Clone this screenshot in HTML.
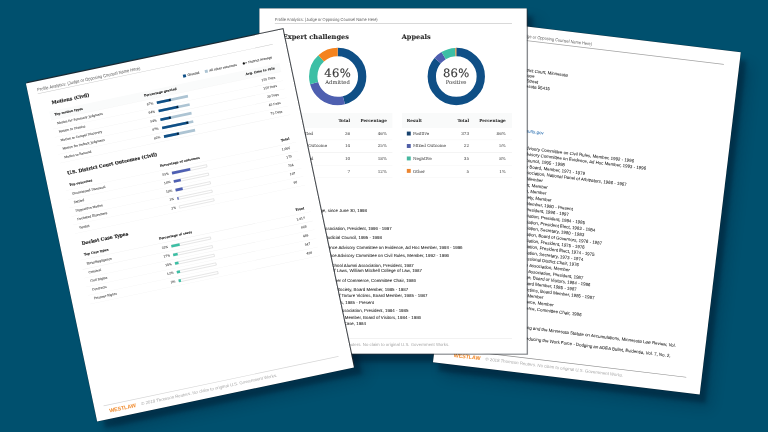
<!DOCTYPE html>
<html lang="en">
<head>
<meta charset="utf-8">
<title>Profile Analytics</title>
<style>
*{box-sizing:border-box;margin:0;padding:0}
html,body{width:768px;height:432px;overflow:hidden;background:#00506e}
body{position:relative;font-family:"Liberation Sans", sans-serif;color:#222;text-rendering:geometricPrecision}
.pg,.sh{position:absolute;left:0;top:0;transform-origin:0 0}
.pg{background:#fff;overflow:hidden;box-shadow:0 0 0 1.2px rgba(10,25,35,.3),4px 3.4px 0 0 rgba(40,45,50,.52)}
#left{box-shadow:0 0 0 1.2px rgba(10,25,35,.3),3.3px -3.3px 0 0 rgba(35,38,42,.8)}
#right{box-shadow:0 0 0 1.5px rgba(10,25,35,.3)}
#right .rule{background:#a2a2a2;height:2px}
#right .rule.f{background:#8c8c8c;height:2.4px}
.sh{background:#023;box-shadow:20px 24px 12px 0 rgba(0,20,40,.36),34px 38px 40px 0 rgba(0,20,40,.24)}
.a{position:absolute;white-space:nowrap}
.hd{font:13.6px/14px "Liberation Sans", sans-serif;color:#5e5e5e;transform:scaleX(.886);transform-origin:0 50%}
#left .hd{font-size:13.9px}
.rule{position:absolute;height:1.5px;background:#c6c6c6}
.wl{font:bold 16.4px/18px "Liberation Sans", sans-serif;color:#f08a2c;letter-spacing:-.2px}
.cp{font:13.3px/16px "Liberation Sans", sans-serif;color:#a8a8a8}
.t{font:13.4px/18.6px "Liberation Sans", sans-serif;color:#181818;-webkit-text-stroke:.12px #181818}
.lnk{color:#2a6fb0;-webkit-text-stroke-color:#2a6fb0}
.h1{font:bold 20.1px/26px "DejaVu Serif", "Liberation Serif", serif;color:#2a2a2a;-webkit-text-stroke:.3px #2a2a2a}
.h2{font:bold 14px/20px "DejaVu Serif", "Liberation Serif", serif;color:#1c1c1c;-webkit-text-stroke:.45px #1c1c1c}
.b{font:bold 9.2px/14px "DejaVu Serif", "Liberation Serif", serif;color:#1a1a1a;-webkit-text-stroke:.3px #1a1a1a}
.s{font:9px/14px "DejaVu Serif", "Liberation Serif", serif;color:#4c4c4c;-webkit-text-stroke:.25px #4c4c4c}
.lg{font:9px/14px "DejaVu Serif", "Liberation Serif", serif;color:#484848;-webkit-text-stroke:.3px #484848}
.th{font:bold 12.8px/18px "DejaVu Serif", "Liberation Serif", serif;color:#2a2a2a;-webkit-text-stroke:.1px #2a2a2a}
.td{font:12.6px/18px "DejaVu Serif", "Liberation Serif", serif;color:#505050;-webkit-text-stroke:.12px #505050}
.big{font:35.5px/36px "DejaVu Serif","Liberation Serif",serif;color:#3c3c3c;text-align:center;letter-spacing:.7px;text-indent:.7px;-webkit-text-stroke:.5px #3c3c3c}
.sm{font:16px/18px "DejaVu Serif", "Liberation Serif", serif;color:#444;text-align:center;-webkit-text-stroke:.15px #444}
.sq{position:absolute;width:12px;height:12px}
.row{position:absolute;height:1.2px;background:#ececec}
.bar{position:absolute;height:8px}
</style>
</head>
<body>
<div class="sh" style="width:820px;height:1052px;transform:translate(474.08px,20.18px) rotate(6.85deg) scale(0.3276)"></div>
<div class="sh" style="width:816px;height:1054px;transform:translate(259.4px,8.4px) rotate(0.0deg) scale(0.3276)"></div>
<div class="sh" style="width:801px;height:1055px;transform:translate(25.9px,83.4px) rotate(-11.9deg) scale(0.3276)"></div>
<div class="pg" id="right" style="width:820px;height:1052px;transform:translate(474.08px,20.18px) rotate(6.85deg) scale(0.3276)">
<div class="a" style="left:0;top:-3px;width:820px;height:1055px">
<div class="a hd" style="top:26.0px;left:51.5px;">Profile Analytics: (Judge or Opposing Counsel Name Here)</div>
<div class="rule" style="left:46.0px;width:727.0px;top:45.2px;"></div>
<div class="rule f" style="left:46.0px;width:727.0px;top:1006.5px;"></div>
<div class="a wl" style="top:1017.0px;left:60.0px;">WESTLAW</div>
<div class="a cp" style="top:1017.5px;left:158.0px;">© 2018 Thomson Reuters. No claim to original U.S. Government Works.</div>
<div class="a t" style="top:126.6px;right:516.0px;">U.S. District Court, Minnesota</div>
<div class="a t" style="top:142.9px;right:616.0px;">U.S. Courthouse</div>
<div class="a t" style="top:159.1px;right:603.0px;">300 South Fourth Street</div>
<div class="a t" style="top:175.1px;right:565.0px;">Minneapolis, Minnesota 55415</div>
<div class="a t lnk" style="top:311.0px;right:568.0px;">www.mnd.uscourts.gov</div>
<div class="a t" style="top:362.7px;right:284.0px;">Judicial Conference Advisory Committee on Civil Rules, Member, 1992 - 1996</div>
<div class="a t" style="top:381.3px;right:245.0px;">Judicial Conference Advisory Committee on Evidence, Ad Hoc Member, 1993 - 1996</div>
<div class="a t" style="top:400.0px;right:492.0px;">Minnesota Judicial Council, 1995 - 1998</div>
<div class="a t" style="top:418.6px;right:428.0px;">Minnesota Tax Court Advisory Board, Member, 1971 - 1979</div>
<div class="a t" style="top:437.3px;right:298.0px;">American Arbitration Association, National Panel of Arbitrators, 1966 - 1967</div>
<div class="a t" style="top:455.9px;right:553.0px;">American Bar Association, Member</div>
<div class="a t" style="top:474.6px;right:536.0px;">American Inns of Court, Member</div>
<div class="a t" style="top:493.2px;right:538.0px;">Federal Judges Association, Member</div>
<div class="a t" style="top:511.9px;right:520.0px;">American Judicature Society, Member</div>
<div class="a t" style="top:530.6px;right:452.0px;">American Law Institute, Member, 1980 - Present</div>
<div class="a t" style="top:549.2px;right:462.0px;">Minnesota District Judges Association, President, 1996 - 1997</div>
<div class="a t" style="top:567.9px;right:410.0px;">Hennepin County Bar Association, President, 1984 - 1985</div>
<div class="a t" style="top:586.5px;right:376.0px;">Hennepin County Bar Association, President Elect, 1983 - 1984</div>
<div class="a t" style="top:605.2px;right:408.0px;">Hennepin County Bar Association, Secretary, 1980 - 1983</div>
<div class="a t" style="top:623.8px;right:351.0px;">Minnesota State Bar Association, Board of Governors, 1976 - 1987</div>
<div class="a t" style="top:642.5px;right:402.0px;">Minnesota Trial Lawyers Association, President, 1975 - 1976</div>
<div class="a t" style="top:661.1px;right:369.5px;">Minnesota Trial Lawyers Association, President Elect, 1974 - 1975</div>
<div class="a t" style="top:679.8px;right:402.0px;">Minnesota Trial Lawyers Association, Secretary, 1973 - 1974</div>
<div class="a t" style="top:698.4px;right:413.0px;">Fifth Congressional District Chair, 1976</div>
<div class="a t" style="top:717.0px;right:439.0px;">Minnesota Women Lawyers Association, Member</div>
<div class="a t" style="top:735.7px;right:395.0px;">William Mitchell Law School Alumni Association, President, 1987</div>
<div class="a t" style="top:754.4px;right:371.0px;">William Mitchell College, Board of Visitors, 1984 - 1986</div>
<div class="a t" style="top:773.0px;right:411.0px;">Minnesota Historical Society, Board Member, 1985 - 1987</div>
<div class="a t" style="top:791.7px;right:354.0px;">Center of Torture Victims, Board Member, 1985 - 1987</div>
<div class="a t" style="top:810.3px;right:509.0px;">Citizens League, Member</div>
<div class="a t" style="top:829.0px;right:475.5px;">Minneapolis Chamber of Commerce, Member</div>
<div class="a t" style="top:847.6px;right:387.0px;">Minneapolis Chamber of Commerce, Committee Chair, 1986</div>
<div class="a t" style="top:906.7px;right:90.0px;">Estate Planning and the Minnesota Statute on Accumulations, Minnesota Law Review, Vol.</div>
<div class="a t" style="top:939.7px;right:102.0px;">Reducing the Work Force - Dodging an ADEA Bullet, Evidentia, Vol. 7, No. 2,</div>
</div></div>
<div class="pg" id="center" style="width:816px;height:1054px;transform:translate(259.4px,8.4px) rotate(0.0deg) scale(0.3276)">
<div class="a hd" style="top:26.0px;left:47.0px;">Profile Analytics: (Judge or Opposing Counsel Name Here)</div>
<div class="rule" style="left:47.0px;width:724.0px;top:45.2px;"></div>
<div class="rule f" style="left:47.0px;width:724.0px;top:1006.5px;background:#d6d6d6;"></div>
<div class="a wl" style="top:1017.0px;left:58.0px;">WESTLAW</div>
<div class="a cp" style="top:1017.5px;left:156.0px;">© 2018 Thomson Reuters. No claim to original U.S. Government Works.</div>
<div class="a h1" style="top:73.5px;left:71.5px;">Expert challenges</div>
<div class="a h1" style="top:73.5px;left:434.5px;">Appeals</div>
<svg class="a" style="left:149.0px;top:118.0px" width="179" height="179" viewBox="-90 -90 179 179"><circle r="74.8" fill="none" stroke="#0f4f86" stroke-width="25.5" stroke-dasharray="214.23 469.67" stroke-dashoffset="0.00" transform="rotate(-90)"/><circle r="74.8" fill="none" stroke="#4e5fb0" stroke-width="25.5" stroke-dasharray="115.36 469.67" stroke-dashoffset="-214.23" transform="rotate(-90)"/><circle r="74.8" fill="none" stroke="#3dbfa5" stroke-width="25.5" stroke-dasharray="82.40 469.67" stroke-dashoffset="-329.59" transform="rotate(-90)"/><circle r="74.8" fill="none" stroke="#f4831f" stroke-width="25.5" stroke-dasharray="57.68 469.67" stroke-dashoffset="-411.99" transform="rotate(-90)"/></svg>
<svg class="a" style="left:511.0px;top:118.3px" width="179" height="179" viewBox="-90 -90 179 179"><circle r="74.8" fill="none" stroke="#0f4f86" stroke-width="25.5" stroke-dasharray="402.73 469.67" stroke-dashoffset="0.00" transform="rotate(-90)"/><circle r="74.8" fill="none" stroke="#4e5fb0" stroke-width="25.5" stroke-dasharray="23.75 469.67" stroke-dashoffset="-402.73" transform="rotate(-90)"/><circle r="74.8" fill="none" stroke="#3dbfa5" stroke-width="25.5" stroke-dasharray="37.79 469.67" stroke-dashoffset="-426.48" transform="rotate(-90)"/><circle r="74.8" fill="none" stroke="#f4831f" stroke-width="25.5" stroke-dasharray="5.40 469.67" stroke-dashoffset="-464.27" transform="rotate(-90)"/></svg>
<div class="a big" style="left:168.5px;width:140px;top:180px">46%</div>
<div class="a sm" style="left:168.5px;width:140px;top:216px">Admitted</div>
<div class="a big" style="left:530.5px;width:140px;top:180px">86%</div>
<div class="a sm" style="left:530.5px;width:140px;top:216px">Positive</div>
<div class="a" style="left:71.5px;top:318.5px;width:334.0px;height:46px;background:#f9fafa"></div>
<div class="a th" style="top:334.5px;right:539.0px;">Total</div>
<div class="a th" style="top:334.5px;right:427.0px;">Percentage</div>
<div class="sq" style="left:87.0px;top:375.5px;background:#17426e"></div>
<div class="a td" style="top:373.0px;left:105.5px;">Admitted</div>
<div class="a td" style="top:373.0px;right:539.0px;">26</div>
<div class="a td" style="top:373.0px;right:427.0px;">46%</div>
<div class="rule" style="left:71.5px;width:334.0px;top:401.1px;background:#eeeeee;height:1.3px;"></div>
<div class="sq" style="left:87.0px;top:413.7px;background:#4f5ea6"></div>
<div class="a td" style="top:411.2px;left:105.5px;">Mixed Outcome</div>
<div class="a td" style="top:411.2px;right:539.0px;">14</div>
<div class="a td" style="top:411.2px;right:427.0px;">25%</div>
<div class="rule" style="left:71.5px;width:334.0px;top:439.3px;background:#eeeeee;height:1.3px;"></div>
<div class="sq" style="left:87.0px;top:451.9px;background:#47b8a0"></div>
<div class="a td" style="top:449.4px;left:105.5px;">Excluded</div>
<div class="a td" style="top:449.4px;right:539.0px;">10</div>
<div class="a td" style="top:449.4px;right:427.0px;">18%</div>
<div class="rule" style="left:71.5px;width:334.0px;top:477.5px;background:#eeeeee;height:1.3px;"></div>
<div class="sq" style="left:87.0px;top:490.1px;background:#ec8530"></div>
<div class="a td" style="top:487.6px;left:105.5px;">Other</div>
<div class="a td" style="top:487.6px;right:539.0px;">7</div>
<div class="a td" style="top:487.6px;right:427.0px;">12%</div>
<div class="rule" style="left:71.5px;width:334.0px;top:515.7px;background:#eeeeee;height:1.3px;"></div>
<div class="a" style="left:434.5px;top:318.5px;width:336.0px;height:46px;background:#f9fafa"></div>
<div class="a th" style="top:334.5px;left:450.0px;">Result</div>
<div class="a th" style="top:334.5px;right:176.0px;">Total</div>
<div class="a th" style="top:334.5px;right:64.0px;">Percentage</div>
<div class="sq" style="left:450.0px;top:375.5px;background:#17426e"></div>
<div class="a td" style="top:373.0px;left:468.5px;">Positive</div>
<div class="a td" style="top:373.0px;right:176.0px;">373</div>
<div class="a td" style="top:373.0px;right:64.0px;">86%</div>
<div class="rule" style="left:434.5px;width:336.0px;top:401.1px;background:#eeeeee;height:1.3px;"></div>
<div class="sq" style="left:450.0px;top:413.7px;background:#4f5ea6"></div>
<div class="a td" style="top:411.2px;left:468.5px;">Mixed Outcome</div>
<div class="a td" style="top:411.2px;right:176.0px;">22</div>
<div class="a td" style="top:411.2px;right:64.0px;">5%</div>
<div class="rule" style="left:434.5px;width:336.0px;top:439.3px;background:#eeeeee;height:1.3px;"></div>
<div class="sq" style="left:450.0px;top:451.9px;background:#47b8a0"></div>
<div class="a td" style="top:449.4px;left:468.5px;">Negative</div>
<div class="a td" style="top:449.4px;right:176.0px;">35</div>
<div class="a td" style="top:449.4px;right:64.0px;">8%</div>
<div class="rule" style="left:434.5px;width:336.0px;top:477.5px;background:#eeeeee;height:1.3px;"></div>
<div class="sq" style="left:450.0px;top:490.1px;background:#ec8530"></div>
<div class="a td" style="top:487.6px;left:468.5px;">Other</div>
<div class="a td" style="top:487.6px;right:176.0px;">5</div>
<div class="a td" style="top:487.6px;right:64.0px;">1%</div>
<div class="rule" style="left:434.5px;width:336.0px;top:515.7px;background:#eeeeee;height:1.3px;"></div>
<div class="a t" style="top:608.8px;right:487.6px;">U.S. District Court, District of Minnesota, Judge, since June 30, 1998</div>
<div class="a t" style="top:662.6px;right:412.5px;">Minnesota District Judges Association, President, 1996 - 1997</div>
<div class="a t" style="top:691.6px;right:442.1px;">Minnesota Judicial Council, 1995 - 1998</div>
<div class="a t" style="top:720.2px;right:196.0px;">Judicial Conference Advisory Committee on Evidence, Ad Hoc Member, 1993 - 1996</div>
<div class="a t" style="top:745.6px;right:237.2px;">Judicial Conference Advisory Committee on Civil Rules, Member, 1992 - 1996</div>
<div class="a t" style="top:774.7px;right:344.7px;">William Mitchell Law School Alumni Association, President, 1987</div>
<div class="a t" style="top:793.1px;right:320.0px;">Honorary Doctor of Laws, William Mitchell College of Law, 1987</div>
<div class="a t" style="top:821.6px;right:338.3px;">Minneapolis Chamber of Commerce, Committee Chair, 1986</div>
<div class="a t" style="top:850.3px;right:361.8px;">Minnesota Historical Society, Board Member, 1985 - 1987</div>
<div class="a t" style="top:868.6px;right:302.9px;">Minnesota Center of Torture Victims, Board Member, 1985 - 1987</div>
<div class="a t" style="top:887.5px;right:466.2px;">American Inns of Courts, 1985 - Present</div>
<div class="a t" style="top:915.0px;right:361.2px;">Hennepin County Bar Association, President, 1984 - 1985</div>
<div class="a t" style="top:935.0px;right:322.7px;">University of Minnesota, Member, Board of Visitors, 1984 - 1986</div>
<div class="a t" style="top:954.4px;right:490.6px;">Minnesota Supreme Court Case, 1984</div>
</div>
<div class="pg" id="left" style="width:801px;height:1055px;transform:translate(25.9px,83.4px) rotate(-11.9deg) scale(0.3276)">
<div class="a hd" style="top:18.5px;left:30.0px;">Profile Analytics: (Judge or Opposing Counsel Name Here)</div>
<div class="rule" style="left:29.0px;width:733.0px;top:37.6px;"></div>
<div class="rule" style="left:29.0px;width:733.0px;top:1011.0px;background:#d6d6d6;"></div>
<div class="a wl" style="top:1021.5px;left:43.0px;">WESTLAW</div>
<div class="a cp" style="top:1022.0px;left:143.0px;">© 2018 Thomson Reuters. No claim to original U.S. Government Works.</div>
<div class="a" style="left:474px;top:73.0px;width:9px;height:9px;background:#0f4f86"></div>
<div class="a lg" style="top:70.5px;left:488.0px;">Granted</div>
<div class="a" style="left:542px;top:73.0px;width:9px;height:9px;background:#adc4d3"></div>
<div class="a lg" style="top:70.5px;left:555.5px;">All other outcomes</div>
<div class="a" style="left:660px;top:74.0px;width:7px;height:7px;border-radius:50%;background:#111"></div>
<div class="a lg" style="top:70.5px;left:667.0px;">= District Average</div>
<div class="a h2" style="top:65.0px;left:65.0px;">Motions (Civil)</div>
<div class="a" style="left:52px;top:98.5px;width:718px;height:26px;background:#fafbfb"></div>
<div class="a b" style="top:104.5px;left:66.0px;">Top motion types</div>
<div class="a b" style="top:104.5px;left:345.5px;">Percentage granted</div>
<div class="a b" style="top:104.5px;right:48.0px;letter-spacing:.3px;">Avg. time to rule</div>
<div class="rule" style="left:52.0px;width:718.0px;top:124.5px;background:#eee;height:1.2px;"></div>
<div class="a s" style="top:132.5px;left:68.0px;">Motion for Summary Judgment</div>
<div class="a s" style="top:132.5px;right:433.0px;">67%</div>
<div class="a s" style="top:132.5px;right:52.5px;">155 Days</div>
<div class="bar" style="left:379px;top:135.5px;width:97px;background:#adc4d3"></div>
<div class="bar" style="left:379px;top:135.5px;width:44px;background:#0f4f86"></div>
<div class="a" style="left:416.0px;top:136.5px;width:6px;height:6px;border-radius:50%;background:#0a1a2a"></div>
<div class="rule" style="left:52.0px;width:718.0px;top:152.5px;background:#f0f0f0;height:1.2px;"></div>
<div class="a s" style="top:159.1px;left:68.0px;">Motion to Dismiss</div>
<div class="a s" style="top:159.1px;right:433.0px;">64%</div>
<div class="a s" style="top:159.1px;right:52.5px;">150 Days</div>
<div class="bar" style="left:379px;top:162.1px;width:97px;background:#adc4d3"></div>
<div class="bar" style="left:379px;top:162.1px;width:61.5px;background:#0f4f86"></div>
<div class="a" style="left:433.5px;top:163.1px;width:6px;height:6px;border-radius:50%;background:#0a1a2a"></div>
<div class="rule" style="left:52.0px;width:718.0px;top:179.1px;background:#f0f0f0;height:1.2px;"></div>
<div class="a s" style="top:185.7px;left:68.0px;">Motion to Compel Discovery</div>
<div class="a s" style="top:185.7px;right:433.0px;">54%</div>
<div class="a s" style="top:185.7px;right:52.5px;">39 Days</div>
<div class="bar" style="left:379px;top:188.7px;width:97px;background:#adc4d3"></div>
<div class="bar" style="left:379px;top:188.7px;width:33px;background:#0f4f86"></div>
<div class="a" style="left:405.0px;top:189.7px;width:6px;height:6px;border-radius:50%;background:#0a1a2a"></div>
<div class="rule" style="left:52.0px;width:718.0px;top:205.7px;background:#f0f0f0;height:1.2px;"></div>
<div class="a s" style="top:212.3px;left:68.0px;">Motion for Default Judgment</div>
<div class="a s" style="top:212.3px;right:433.0px;">87%</div>
<div class="a s" style="top:212.3px;right:52.5px;">45 Days</div>
<div class="bar" style="left:379px;top:215.3px;width:97px;background:#adc4d3"></div>
<div class="bar" style="left:379px;top:215.3px;width:82px;background:#0f4f86"></div>
<div class="a" style="left:454.0px;top:216.3px;width:6px;height:6px;border-radius:50%;background:#0a1a2a"></div>
<div class="rule" style="left:52.0px;width:718.0px;top:232.3px;background:#f0f0f0;height:1.2px;"></div>
<div class="a s" style="top:238.9px;left:68.0px;">Motion to Remand</div>
<div class="a s" style="top:238.9px;right:433.0px;">62%</div>
<div class="a s" style="top:238.9px;right:52.5px;">75 Days</div>
<div class="bar" style="left:379px;top:241.9px;width:97px;background:#adc4d3"></div>
<div class="bar" style="left:379px;top:241.9px;width:47px;background:#0f4f86"></div>
<div class="a" style="left:419.0px;top:242.9px;width:6px;height:6px;border-radius:50%;background:#0a1a2a"></div>
<div class="rule" style="left:52.0px;width:718.0px;top:258.9px;background:#f0f0f0;height:1.2px;"></div>
<div class="a h2" style="top:285.0px;left:66.5px;">U.S. District Court Outcomes (Civil)</div>
<div class="a b" style="top:324.5px;left:66.0px;">Top outcomes</div>
<div class="a b" style="top:324.5px;left:348.5px;">Percentage of outcomes</div>
<div class="a b" style="top:324.5px;right:48.0px;letter-spacing:.3px;">Total</div>
<div class="rule" style="left:52.0px;width:718.0px;top:344.5px;background:#eee;height:1.2px;"></div>
<div class="a s" style="top:352.5px;left:68.0px;">Uncontested Dismissal</div>
<div class="a s" style="top:352.5px;right:431.0px;">55%</div>
<div class="a s" style="top:352.5px;right:52.5px;">1,066</div>
<div class="bar" style="left:380px;top:355.5px;width:109px;background:#fff;border:1.3px solid #bbb"></div>
<div class="bar" style="left:380px;top:355.5px;width:57px;background:#4d5fb3"></div>
<div class="rule" style="left:52.0px;width:718.0px;top:372.5px;background:#f0f0f0;height:1.2px;"></div>
<div class="a s" style="top:379.1px;left:68.0px;">Settled</div>
<div class="a s" style="top:379.1px;right:431.0px;">16%</div>
<div class="a s" style="top:379.1px;right:52.5px;">175</div>
<div class="bar" style="left:380px;top:382.1px;width:109px;background:#fff;border:1.3px solid #bbb"></div>
<div class="bar" style="left:380px;top:382.1px;width:22px;background:#4d5fb3"></div>
<div class="rule" style="left:52.0px;width:718.0px;top:399.1px;background:#f0f0f0;height:1.2px;"></div>
<div class="a s" style="top:405.7px;left:68.0px;">Dispositive Motion</div>
<div class="a s" style="top:405.7px;right:431.0px;">19%</div>
<div class="a s" style="top:405.7px;right:52.5px;">754</div>
<div class="bar" style="left:380px;top:408.7px;width:109px;background:#fff;border:1.3px solid #bbb"></div>
<div class="bar" style="left:380px;top:408.7px;width:22px;background:#4d5fb3"></div>
<div class="rule" style="left:52.0px;width:718.0px;top:425.7px;background:#f0f0f0;height:1.2px;"></div>
<div class="a s" style="top:432.3px;left:68.0px;">Docketed Elsewhere</div>
<div class="a s" style="top:432.3px;right:431.0px;">3%</div>
<div class="a s" style="top:432.3px;right:52.5px;">197</div>
<div class="bar" style="left:380px;top:435.3px;width:109px;background:#fff;border:1.3px solid #bbb"></div>
<div class="bar" style="left:380px;top:435.3px;width:4px;background:#4d5fb3"></div>
<div class="rule" style="left:52.0px;width:718.0px;top:452.3px;background:#f0f0f0;height:1.2px;"></div>
<div class="a s" style="top:458.9px;left:68.0px;">Verdict</div>
<div class="a s" style="top:458.9px;right:431.0px;">2%</div>
<div class="a s" style="top:458.9px;right:52.5px;">98</div>
<div class="bar" style="left:380px;top:461.9px;width:109px;background:#fff;border:1.3px solid #bbb"></div>
<div class="rule" style="left:52.0px;width:718.0px;top:478.9px;background:#f0f0f0;height:1.2px;"></div>
<div class="a h2" style="top:504.0px;left:65.5px;">Docket Case Types</div>
<div class="a b" style="top:542.0px;left:66.0px;">Top Case types</div>
<div class="a b" style="top:542.0px;left:300.0px;">Percentage of cases</div>
<div class="a b" style="top:542.0px;right:48.0px;letter-spacing:.3px;">Total</div>
<div class="rule" style="left:52.0px;width:718.0px;top:562.0px;background:#eee;height:1.2px;"></div>
<div class="a s" style="top:571.0px;left:68.0px;">Torts/Negligence</div>
<div class="a s" style="top:571.0px;right:479.0px;">32%</div>
<div class="a s" style="top:571.0px;right:52.5px;">1,917</div>
<div class="bar" style="left:331.5px;top:574.0px;width:123px;background:#fff;border:1.3px solid #bbb"></div>
<div class="bar" style="left:331.5px;top:574.0px;width:26px;background:#3bbfa4"></div>
<div class="rule" style="left:52.0px;width:718.0px;top:591.0px;background:#f0f0f0;height:1.2px;"></div>
<div class="a s" style="top:598.0px;left:68.0px;">Criminal</div>
<div class="a s" style="top:598.0px;right:479.0px;">17%</div>
<div class="a s" style="top:598.0px;right:52.5px;">666</div>
<div class="bar" style="left:331.5px;top:601.0px;width:123px;background:#fff;border:1.3px solid #bbb"></div>
<div class="bar" style="left:331.5px;top:601.0px;width:14.5px;background:#3bbfa4"></div>
<div class="rule" style="left:52.0px;width:718.0px;top:618.0px;background:#f0f0f0;height:1.2px;"></div>
<div class="a s" style="top:625.0px;left:68.0px;">Civil Rights</div>
<div class="a s" style="top:625.0px;right:479.0px;">14%</div>
<div class="a s" style="top:625.0px;right:52.5px;">488</div>
<div class="bar" style="left:331.5px;top:628.0px;width:123px;background:#fff;border:1.3px solid #bbb"></div>
<div class="bar" style="left:331.5px;top:628.0px;width:11.5px;background:#3bbfa4"></div>
<div class="rule" style="left:52.0px;width:718.0px;top:645.0px;background:#f0f0f0;height:1.2px;"></div>
<div class="a s" style="top:652.0px;left:68.0px;">Contracts</div>
<div class="a s" style="top:652.0px;right:479.0px;">12%</div>
<div class="a s" style="top:652.0px;right:52.5px;">547</div>
<div class="bar" style="left:331.5px;top:655.0px;width:123px;background:#fff;border:1.3px solid #bbb"></div>
<div class="bar" style="left:331.5px;top:655.0px;width:10px;background:#3bbfa4"></div>
<div class="rule" style="left:52.0px;width:718.0px;top:672.0px;background:#f0f0f0;height:1.2px;"></div>
<div class="a s" style="top:679.0px;left:68.0px;">Prisoner Rights</div>
<div class="a s" style="top:679.0px;right:479.0px;">9%</div>
<div class="a s" style="top:679.0px;right:52.5px;">408</div>
<div class="bar" style="left:331.5px;top:682.0px;width:123px;background:#fff;border:1.3px solid #bbb"></div>
<div class="bar" style="left:331.5px;top:682.0px;width:7.5px;background:#3bbfa4"></div>
<div class="rule" style="left:52.0px;width:718.0px;top:699.0px;background:#f0f0f0;height:1.2px;"></div>
</div>
</body>
</html>
